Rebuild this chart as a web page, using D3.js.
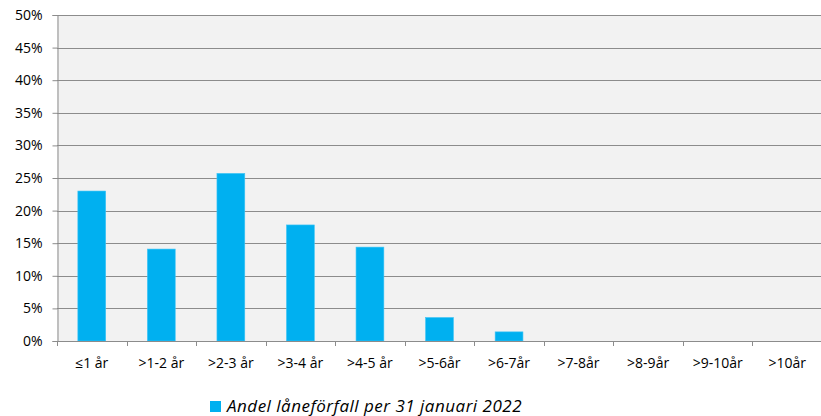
<!DOCTYPE html>
<html><head><meta charset="utf-8">
<script src="https://cdn.jsdelivr.net/npm/d3@7"></script>
<style>body{margin:0;background:#fff}svg{display:block}text{font-family:"Open Sans",sans-serif}</style>
</head><body><svg id="c" width="821" height="416"></svg>
<script>
const categories = ["≤1 år", ">1-2 år", ">2-3 år", ">3-4 år", ">4-5 år", ">5-6år", ">6-7år", ">7-8år", ">8-9år", ">9-10år", ">10år"];
const values = [23.0, 14.1, 25.7, 17.8, 14.4, 3.6, 1.4, 0, 0, 0, 0];
const yTicks = [0, 5, 10, 15, 20, 25, 30, 35, 40, 45, 50];
const seriesName = "Andel låneförfall per 31 januari 2022";

const svg = d3.select("#c");
const m = {l: 57, r: 822, t: 15, b: 341};
const x = d3.scaleBand().domain(categories).range([m.l, m.r]).paddingInner(0.6).paddingOuter(0.3);
const y = d3.scaleLinear().domain([0, 50]).range([m.b, m.t]);

svg.append("rect").attr("x", m.l).attr("y", m.t).attr("width", m.r - m.l).attr("height", m.b - m.t).attr("fill", "#F2F2F2");

svg.append("g").selectAll("line").data(yTicks.filter(d => d > 0)).join("line")
  .attr("x1", m.l).attr("x2", m.r).attr("y1", d => Math.round(y(d)) + 0.5).attr("y2", d => Math.round(y(d)) + 0.5)
  .attr("stroke", "#8C8C8C").attr("stroke-width", 1);

svg.append("g").selectAll("rect").data(values).join("rect")
  .attr("x", (d, i) => x(categories[i])).attr("width", x.bandwidth())
  .attr("y", d => y(d)).attr("height", d => m.b - y(d))
  .attr("fill", "#00B0F0").attr("stroke", "#3DC4F5").attr("stroke-width", 0.6)
  .attr("display", d => d > 0 ? null : "none");

const yAxis = svg.append("g").attr("transform", `translate(${m.l + 0.5},0)`)
  .call(d3.axisLeft(y).tickValues(yTicks).tickFormat(d => d + "%").tickSize(5).tickPadding(10));
yAxis.select(".domain").attr("stroke", "#8C8C8C");
yAxis.selectAll(".tick line").attr("stroke", "#8C8C8C");
yAxis.selectAll("text").attr("font-size", 14).attr("fill", "#000").style("font-family", "'Open Sans', sans-serif");

const step = x.step();
const bounds = d3.range(categories.length + 1).map(i => m.l + i * step);
const xg = svg.append("g");
xg.append("line").attr("x1", m.l).attr("x2", m.r).attr("y1", m.b + 0.5).attr("y2", m.b + 0.5).attr("stroke", "#8C8C8C");
xg.selectAll("line.t").data(bounds).join("line").attr("class", "t")
  .attr("x1", d => Math.round(d) + 0.5).attr("x2", d => Math.round(d) + 0.5)
  .attr("y1", m.b).attr("y2", m.b + 5).attr("stroke", "#8C8C8C");
xg.selectAll("text").data(categories).join("text")
  .attr("x", d => x(d) + x.bandwidth() / 2).attr("y", 368)
  .attr("text-anchor", "middle").attr("font-size", 14).attr("fill", "#000").text(d => d);

const lg = svg.append("g");
lg.append("rect").attr("x", 210).attr("y", 401).attr("width", 11).attr("height", 11).attr("fill", "#00B0F0");
lg.append("text").attr("x", 227).attr("y", 412).attr("font-size", 17).attr("letter-spacing", 0.5).attr("font-style", "italic").attr("fill", "#000").text(seriesName);
</script></body></html>
